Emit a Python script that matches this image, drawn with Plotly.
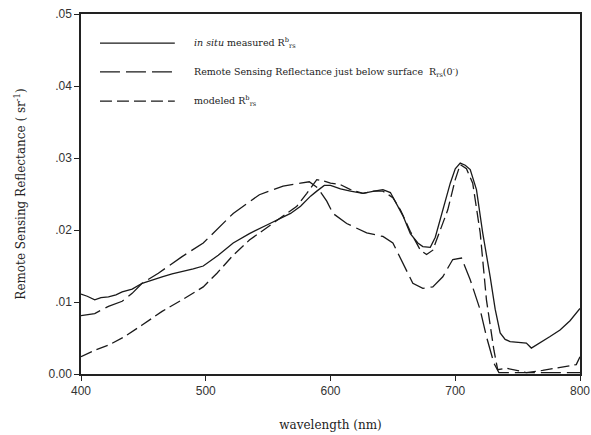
import plotly.graph_objects as go

# ---- data ----
insitu_wl = [400, 405, 411, 416, 422, 428, 433, 441, 449, 457, 465, 473, 481, 490, 498, 510, 522, 535, 549, 560,
             568, 576, 584, 589, 595, 600, 608, 616, 626, 635, 642, 648, 652, 658, 664, 670, 674, 680, 684, 688,
             692, 696, 700, 704, 708, 712, 717, 722, 728, 732, 736, 740, 744, 750, 757, 761, 768, 776, 784, 792, 800]
insitu_rrs = [0.0111, 0.0108, 0.0103, 0.0106, 0.0107, 0.0110, 0.0114, 0.0118, 0.0126, 0.0131, 0.0135, 0.0139,
              0.0142, 0.0146, 0.0150, 0.0165, 0.0182, 0.0195, 0.0207, 0.0216, 0.0223, 0.0233, 0.0247, 0.0254,
              0.0262, 0.0262, 0.0257, 0.0254, 0.0251, 0.0254, 0.0256, 0.0252, 0.0240, 0.0220, 0.0195, 0.0182,
              0.0177, 0.0176, 0.0190, 0.0214, 0.0240, 0.0265, 0.0285, 0.0293, 0.0290, 0.0284, 0.0256, 0.0196,
              0.0135, 0.0090, 0.0057, 0.0048, 0.0045, 0.0044, 0.0043, 0.0036, 0.0043, 0.0052, 0.0061, 0.0074, 0.0091]

below_wl = [400, 411, 422, 433, 441, 449, 462, 481, 498, 510, 522, 543, 562, 576, 583, 590, 597, 602, 613, 629,
            642, 650, 658, 666, 674, 682, 690, 698, 705, 712, 720, 725, 731, 735, 750, 770, 800]
below_rrs = [0.0081, 0.0084, 0.0094, 0.0101, 0.0112, 0.0126, 0.0140, 0.0163, 0.0182, 0.0203, 0.0223, 0.0249,
             0.0261, 0.0265, 0.0267, 0.0258, 0.0240, 0.0223, 0.0209, 0.0196, 0.0191, 0.0182, 0.0154, 0.0126,
             0.0119, 0.0121, 0.0135, 0.0159, 0.0161, 0.0131, 0.0089, 0.0052, 0.0015, 0.0002, 0.0002, 0.0002, 0.0002]

model_wl = [400, 411, 422, 435, 449, 465, 481, 498, 509, 522, 535, 549, 565, 573, 581, 589, 595, 600, 608, 616,
            626, 635, 642, 650, 656, 664, 672, 677, 682, 688, 694, 700, 704, 709, 714, 720, 725, 731, 734, 741,
            757, 770, 781, 792, 797, 800]
model_rrs = [0.0024, 0.0033, 0.0040, 0.0052, 0.0068, 0.0087, 0.0103, 0.0121, 0.0140, 0.0165, 0.0186, 0.0203,
             0.0223, 0.0233, 0.0251, 0.0270, 0.0268, 0.0265, 0.0263, 0.0256, 0.0251, 0.0254, 0.0254, 0.0245,
             0.0228, 0.0198, 0.0172, 0.0166, 0.0172, 0.0200, 0.0228, 0.0270, 0.0291, 0.0285, 0.0265, 0.0196,
             0.0103, 0.0033, 0.0006, 0.0008, 0.0002, 0.0005, 0.0008, 0.0011, 0.0013, 0.0024]

x_ticks = [400, 500, 600, 700, 800]
y_ticks = [0.0, 0.01, 0.02, 0.03, 0.04, 0.05]
y_ticktext = ["0.00", ".01", ".02", ".03", ".04", ".05"]

series_names = [
    "<i>in situ</i> measured R<sup>b</sup><sub>rs</sub>",
    "Remote Sensing Reflectance just below surface  R<sub>rs</sub>(0<sup>-</sup>)",
    "modeled R<sup>b</sup><sub>rs</sub>",
]

SERIF = "DejaVu Serif"
SANS = "Liberation Sans"
LINE = "#1a1a1a"
dashes = ["solid", "20px,6px", "12px,5px"]

fig = go.Figure()
for wl, v, name, d in zip([insitu_wl, below_wl, model_wl], [insitu_rrs, below_rrs, model_rrs], series_names, dashes):
    fig.add_trace(go.Scatter(x=wl, y=v, mode="lines", name=name,
                             line=dict(color=LINE, width=1.3, dash=d), showlegend=False))

# manual legend (long sample lines as in the reference)
leg_y = [0.919, 0.839, 0.758]
for name, d, yy in zip(series_names, dashes, leg_y):
    fig.add_shape(type="line", xref="paper", yref="paper", x0=0.038, x1=0.188, y0=yy, y1=yy,
                  line=dict(color=LINE, width=1.3, dash=d))
    fig.add_annotation(xref="paper", yref="paper", x=0.2225, y=yy, text=name, showarrow=False,
                       xanchor="left", yanchor="middle",
                       font=dict(family=SERIF, size=9.5, color="#222"))

fig.update_layout(
    width=591, height=435,
    margin=dict(l=81, r=11, t=14, b=61),
    paper_bgcolor="white", plot_bgcolor="white",
    font=dict(family=SERIF),
    xaxis=dict(range=[400, 800], tickvals=x_ticks, ticks="outside", ticklen=5, tickcolor="#222",
               showline=True, linecolor="#222", linewidth=1.5, mirror=True, showgrid=False, zeroline=False,
               automargin=False,
               tickfont=dict(family=SANS, size=12, color="#333"),
               title=dict(text="wavelength (nm)", font=dict(family=SERIF, size=12, color="#222"),
                          standoff=23)),
    yaxis=dict(range=[0, 0.05], tickvals=y_ticks, ticktext=y_ticktext, ticks="outside", ticklen=5,
               tickcolor="#222", showline=True, linecolor="#222", linewidth=1.5, mirror=True,
               showgrid=False, zeroline=False, automargin=False,
               tickfont=dict(family=SANS, size=12, color="#333"),
               title=dict(text="Remote Sensing Reflectance ( sr<sup>-1</sup>)",
                          font=dict(family=SERIF, size=12, color="#222"), standoff=20)),
)

fig.write_html("out.html", config={"displayModeBar": False},
               post_script="document.body.style.margin='0';")
